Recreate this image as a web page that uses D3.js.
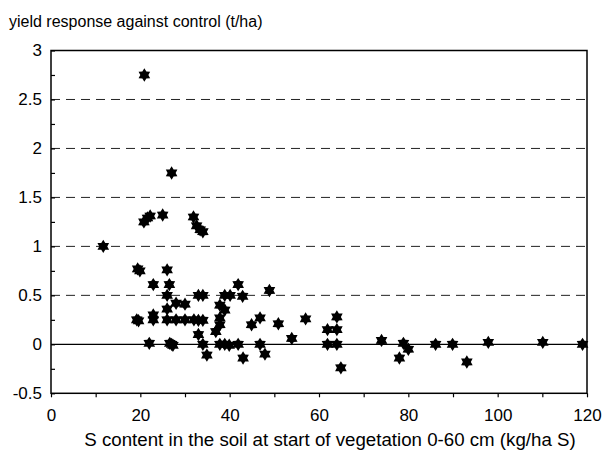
<!DOCTYPE html>
<html>
<head>
<meta charset="utf-8">
<script src="https://cdn.jsdelivr.net/npm/d3@7"></script>
<style>
  html, body { margin: 0; padding: 0; background: #fff; }
  svg { display: block; font-family: "Liberation Sans", Arial, sans-serif; }
</style>
</head>
<body>
<svg id="chart" width="605" height="451"></svg>
<script>
// S content in soil (kg/ha S)
const xValues = [
  11.7, 20.9, 27.0, 20.8, 21.6, 22.2, 25.0, 31.9, 32.6, 33.4, 34.0,
  19.4, 19.9, 26.0, 22.9, 26.5, 26.0, 33.0, 34.0, 28.0, 30.0, 26.0,
  19.2, 19.6, 22.9, 22.9, 26.0, 28.0, 30.0, 32.0, 33.0, 34.0, 33.0,
  22.0, 26.6, 27.0, 27.3, 34.0, 34.9,
  37.8, 38.9, 37.8, 37.8, 36.9, 38.9, 40.1, 41.9, 42.9, 48.9, 44.9, 46.8, 50.9,
  37.8, 38.9, 39.9, 41.9, 43.0, 46.8, 47.9,
  53.9, 57.0, 61.9, 64.0, 64.0, 61.9, 64.0, 64.9,
  74.0, 78.9, 80.0, 78.0, 86.1, 89.9, 93.1, 97.9, 110.1, 119.0
];
// yield response against control (t/ha)
const yValues = [
  1.00, 2.75, 1.75, 1.25, 1.29, 1.31, 1.32, 1.30, 1.21, 1.17, 1.15,
  0.77, 0.75, 0.76, 0.61, 0.61, 0.50, 0.50, 0.50, 0.42, 0.41, 0.36,
  0.25, 0.24, 0.30, 0.25, 0.25, 0.25, 0.25, 0.25, 0.245, 0.245, 0.10,
  0.01, 0.01, 0.00, -0.01, 0.00, -0.11,
  0.40, 0.35, 0.27, 0.20, 0.13, 0.50, 0.50, 0.61, 0.49, 0.55, 0.20, 0.27, 0.21,
  0.00, 0.00, -0.01, 0.00, -0.14, 0.00, -0.10,
  0.06, 0.26, 0.15, 0.28, 0.15, 0.00, 0.00, -0.24,
  0.04, 0.01, -0.05, -0.14, 0.00, 0.00, -0.18, 0.02, 0.02, 0.00
];
const xTicks = [0, 10, 20, 30, 40, 50, 60, 70, 80, 90, 100, 110, 120];
const xTickLabels = ["0", "", "20", "", "40", "", "60", "", "80", "", "100", "", "120"];
const yTicks = [-0.5, -0.25, 0, 0.25, 0.5, 0.75, 1, 1.25, 1.5, 1.75, 2, 2.25, 2.5, 2.75, 3];
const yTickLabels = ["-0.5", "", "0", "", "0.5", "", "1", "", "1.5", "", "2", "", "2.5", "", "3"];
const gridValues = [0.5, 1, 1.5, 2, 2.5];
const yTitle = "yield response against control (t/ha)";
const xTitle = "S content in the soil at start of vegetation 0-60 cm (kg/ha S)";

const W = 605, H = 451;
const margin = { left: 51, right: 18, top: 50.5, bottom: 57.7 };
const svg = d3.select("#chart");
const iw = W - margin.left - margin.right;
const ih = H - margin.top - margin.bottom;

const x = d3.scaleLinear().domain([0, 120]).range([0, iw]);
const y = d3.scaleLinear().domain([-0.5, 3]).range([ih, 0]);

const g = svg.append("g").attr("transform", `translate(${margin.left},${margin.top})`);

// dashed grid
g.selectAll("line.grid").data(gridValues).join("line")
  .attr("class", "grid")
  .attr("x1", 0).attr("x2", iw)
  .attr("y1", d => y(d)).attr("y2", d => y(d))
  .attr("stroke", "#222").attr("stroke-width", 1)
  .attr("stroke-dasharray", "9,6");

// zero line
g.append("line")
  .attr("x1", 0).attr("x2", iw)
  .attr("y1", y(0)).attr("y2", y(0))
  .attr("stroke", "#000").attr("stroke-width", 1.3);

// axes
const yAxis = d3.axisLeft(y).tickValues(yTicks).tickSize(-4).tickPadding(9)
  .tickFormat((d, i) => yTickLabels[i]);
const gy = g.append("g").call(yAxis);
gy.select(".domain").remove();
gy.selectAll(".tick line").attr("stroke", "#000").attr("stroke-width", 1.2);
gy.selectAll(".tick text").attr("fill", "#000").style("font-size", "17px")
  .style("font-family", "'Liberation Sans', Arial, sans-serif");

const xAxis = d3.axisBottom(x).tickValues(xTicks).tickSize(4).tickPadding(12)
  .tickFormat((d, i) => xTickLabels[i]);
const gx = g.append("g").attr("transform", `translate(0,${ih})`).call(xAxis);
gx.select(".domain").remove();
gx.selectAll(".tick line").attr("stroke", "#000").attr("stroke-width", 1.2);
gx.selectAll(".tick text").attr("fill", "#000").style("font-size", "17px")
  .style("font-family", "'Liberation Sans', Arial, sans-serif");

// frame
g.append("rect").attr("x", 0).attr("y", 0).attr("width", iw).attr("height", ih)
  .attr("fill", "none").attr("stroke", "#000").attr("stroke-width", 1.5);

// hexagram markers
const R = 6.7, r = R * 0.6;
const starPts = d3.range(12).map(k => [k * Math.PI / 6, k % 2 === 0 ? R : r]);
const starPath = d3.lineRadial().curve(d3.curveLinearClosed)(starPts);

g.selectAll("path.pt").data(xValues.map((v, i) => [v, yValues[i]])).join("path")
  .attr("class", "pt")
  .attr("d", starPath)
  .attr("transform", d => `translate(${x(d[0])},${y(d[1])})`)
  .attr("fill", "#000");

// titles
svg.append("text").attr("x", 9).attr("y", 27)
  .style("font-size", "16px").attr("fill", "#000").text(yTitle);
svg.append("text").attr("x", 330).attr("y", 446)
  .attr("text-anchor", "middle")
  .style("font-size", "18.7px").attr("fill", "#000").text(xTitle);
</script>
</body>
</html>
